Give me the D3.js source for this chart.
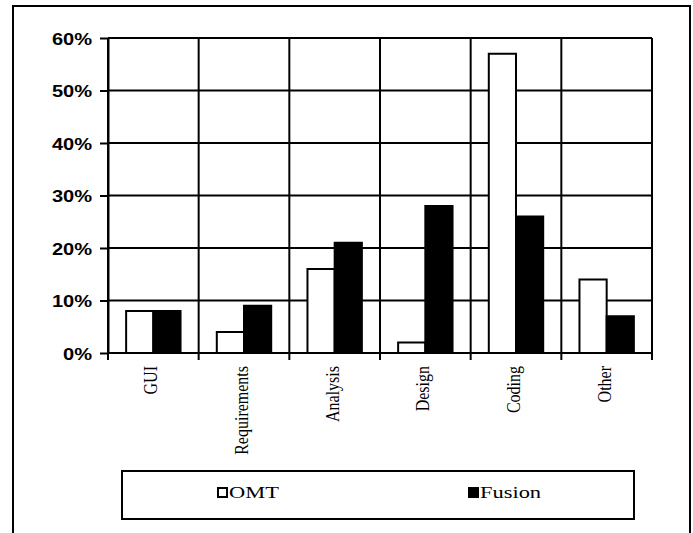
<!DOCTYPE html>
<html><head><meta charset="utf-8">
<script src="https://cdn.jsdelivr.net/npm/d3@7"></script>
<style>html,body{margin:0;padding:0;background:#fff;}svg{display:block;}</style>
</head><body>
<svg id="chart" width="693" height="533"></svg>
<script>
const categories = ["GUI","Requirements","Analysis","Design","Coding","Other"];
const seriesNames = ["OMT","Fusion"];
const omtValues = [8,4,16,2,57,14];
const fusionValues = [8,9,21,28,26,7];
const yTickValues = [0,10,20,30,40,50,60];

const svg = d3.select("#chart");
const W = 693, H = 533;
const plot = {left:108, right:652, top:38, bottom:353};

// outer frame (bottom edge lies outside the picture)
svg.append("path")
  .attr("d", `M13,${H+5} L13,6 L690,6 L690,${H+5}`)
  .attr("fill","none").attr("stroke","#000").attr("stroke-width",2);

const x = d3.scaleBand().domain(categories).range([plot.left, plot.right]).padding(0);
const xs = d3.scaleBand().domain(seriesNames).range([0, x.bandwidth()]).paddingInner(0).paddingOuter(2/3);
const y = d3.scaleLinear().domain([0,60]).range([plot.bottom, plot.top]);

const g = svg.append("g");
g.selectAll("line.hgrid").data(yTickValues).join("line")
  .attr("class","hgrid")
  .attr("x1", plot.left).attr("x2", plot.right)
  .attr("y1", d=>y(d)).attr("y2", d=>y(d))
  .attr("stroke","#000").attr("stroke-width",2);
const bounds = categories.map(c=>x(c)).concat([plot.right]);
g.selectAll("line.vgrid").data(bounds).join("line")
  .attr("class","vgrid")
  .attr("x1", d=>d).attr("x2", d=>d)
  .attr("y1", plot.top).attr("y2", plot.bottom + 7)
  .attr("stroke","#000").attr("stroke-width",2);

const data = categories.map((c,i)=>({cat:c, vals:[{s:"OMT",v:omtValues[i]},{s:"Fusion",v:fusionValues[i]}]}));
const grp = g.selectAll("g.cat").data(data).join("g").attr("class","cat")
  .attr("transform", d=>`translate(${x(d.cat)},0)`);
grp.selectAll("rect").data(d=>d.vals).join("rect")
  .attr("x", d=>xs(d.s)).attr("width", xs.bandwidth())
  .attr("y", d=>y(d.v)).attr("height", d=>plot.bottom - y(d.v))
  .attr("fill", d=>d.s==="OMT" ? "#fff" : "#000")
  .attr("stroke","#000").attr("stroke-width",2);

const yAxis = d3.axisLeft(y).tickValues(yTickValues).tickFormat(d=>d+"%").tickSize(8).tickSizeOuter(0).tickPadding(0);
const ya = svg.append("g").attr("transform",`translate(${plot.left},0)`).call(yAxis);
ya.select(".domain").attr("stroke","#000").attr("stroke-width",2);
ya.selectAll(".tick line").attr("stroke","#000").attr("stroke-width",2);
ya.selectAll(".tick text")
  .attr("x", null).attr("dy", null)
  .attr("font-family","'Liberation Sans', Arial, sans-serif")
  .attr("font-weight","bold").attr("font-size",17).attr("fill","#000")
  .attr("text-anchor","end")
  .attr("transform","translate(-16,6) scale(1.18,1)");

svg.append("line").attr("x1",plot.left).attr("x2",plot.right)
  .attr("y1",plot.bottom).attr("y2",plot.bottom)
  .attr("stroke","#000").attr("stroke-width",2);

svg.selectAll("text.cat").data(categories).join("text")
  .attr("class","cat")
  .attr("transform", d=>`translate(${x(d)+x.bandwidth()/2+4},366) rotate(-90) scale(1,1.2)`)
  .attr("text-anchor","end")
  .attr("font-family","'Liberation Serif','Times New Roman',serif")
  .attr("font-size",16).attr("fill","#000")
  .text(d=>d);

svg.append("rect").attr("x",122).attr("y",471).attr("width",512).attr("height",48)
  .attr("fill","#fff").attr("stroke","#000").attr("stroke-width",2);
const legendX = [218, 469];
const lg = svg.selectAll("g.leg").data(seriesNames).join("g").attr("class","leg")
  .attr("transform",(d,i)=>`translate(${legendX[i]},488)`);
lg.append("rect").attr("width",9).attr("height",9)
  .attr("fill",(d,i)=>i===0?"#fff":"#000").attr("stroke","#000").attr("stroke-width",2);
lg.append("text").attr("transform","translate(11,10) scale(1.32,1)")
  .attr("font-family","'Liberation Serif','Times New Roman',serif")
  .attr("font-size",17).attr("fill","#000")
  .text(d=>d);
</script>
</body></html>
